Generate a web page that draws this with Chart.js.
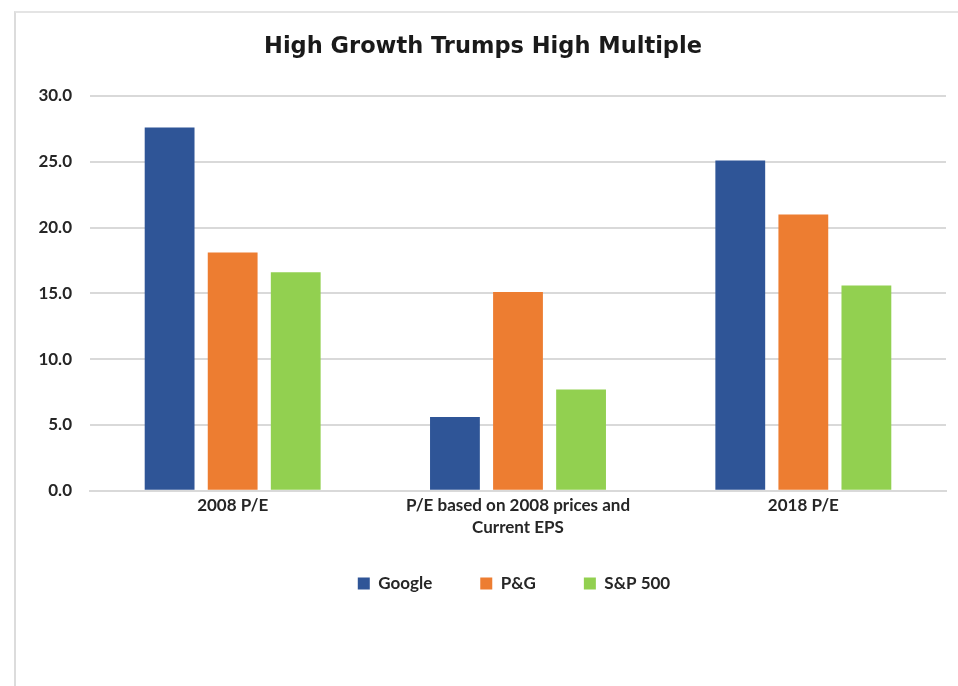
<!DOCTYPE html>
<html>
<head>
<meta charset="utf-8">
<script src="https://cdn.jsdelivr.net/npm/chart.js@4.4.1/dist/chart.umd.min.js"></script>
<style>
  body { margin: 0; background: #fff; }
  #frame { position: absolute; left: 14px; top: 11px; width: 944px; height: 675px;
           border-left: 2px solid #dcdcdc; border-top: 2px solid #e4e4e4; }
  #wrap { position: absolute; left: 0; top: 0; width: 958px; height: 686px; }
</style>
</head>
<body>
<div id="frame"></div>
<div id="wrap"><canvas id="myChart" width="958" height="686"></canvas></div>
<script>
// chart values
var categories = [["2008 P/E"], ["P/E based on 2008 prices and", "Current EPS"], ["2018 P/E"]];
var googleVals = [27.6, 5.6, 25.1];
var pgVals = [18.1, 15.1, 21.0];
var spVals = [16.6, 7.7, 15.6];
var yTicks = [0, 5, 10, 15, 20, 25, 30];

var labelFont = { family: "Lato, sans-serif", size: 17, weight: 'bold' };

// legend sits a bit right of centre in the original
var legendShift = {
    id: 'legendShift',
    afterLayout: function (chart) {
        chart.legend.left += 31;
        chart.legend.right += 31;
    }
};

var ctx = document.getElementById('myChart').getContext('2d');
var chart = new Chart(ctx, {
    type: 'bar',
    data: {
        labels: categories,
        datasets: [{
            label: "Google",
            backgroundColor: '#2F5597',
            data: googleVals
        },
        {
            label: "P&G",
            backgroundColor: '#ED7D31',
            data: pgVals
        },
        {
            label: "S&P 500",
            backgroundColor: '#92D050',
            data: spVals
        }]
    },
    plugins: [legendShift],
    options: {
        responsive: false,
        animation: false,
        categoryPercentage: 0.663,
        barPercentage: 0.79,
        layout: { padding: { left: 20, right: 12, top: 20, bottom: 84 } },
        plugins: {
            title: {
                display: true,
                text: 'High Growth Trumps High Multiple',
                color: '#1a1a1a',
                font: { family: "'DejaVu Sans', sans-serif", size: 22.5, weight: 'bold' },
                padding: { top: 14, bottom: 35 }
            },
            legend: {
                position: 'bottom',
                labels: {
                    boxWidth: 12,
                    boxHeight: 12,
                    padding: 48,
                    color: '#262626',
                    font: labelFont
                }
            },
            tooltip: { enabled: false }
        },
        scales: {
            x: {
                grid: { display: false },
                border: { color: '#d9d9d9', width: 2 },
                ticks: { color: '#262626', font: Object.assign({ lineHeight: 1.3 }, labelFont), padding: -4, maxRotation: 0 },
                afterFit: function (scale) { scale.height -= 8; },
                afterUpdate: function (scale) { scale._computeLabelArea = function () {}; }
            },
            y: {
                min: 0,
                max: 30,
                afterBuildTicks: function (scale) {
                    scale.ticks = yTicks.map(function (v) { return { value: v }; });
                },
                afterFit: function (scale) { scale.width = 70; },
                grid: { color: '#d9d9d9', lineWidth: 2, drawTicks: false },
                border: { display: false },
                ticks: {
                    color: '#262626',
                    font: labelFont,
                    padding: 18,
                    callback: function (v) { return Number(v).toFixed(1); }
                }
            }
        }
    }
});
</script>
</body>
</html>
